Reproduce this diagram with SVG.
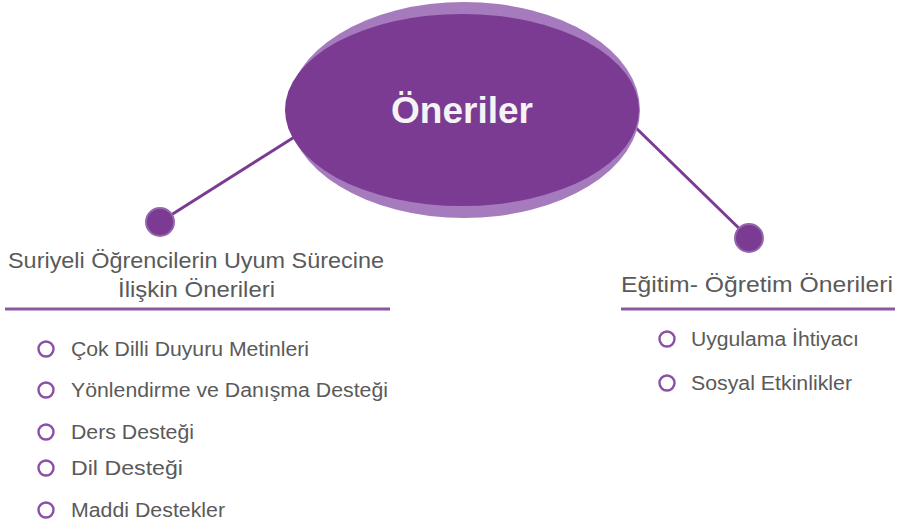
<svg xmlns="http://www.w3.org/2000/svg" width="902" height="529" viewBox="0 0 902 529">
<style>
.hd{font-family:"Liberation Sans",Arial,sans-serif;font-size:22px;fill:#5a5a5a}
.it{font-family:"Liberation Sans",Arial,sans-serif;font-size:19.5px;fill:#5a5a5a}
.bul{fill:none;stroke:#8b4fa8;stroke-width:2.4}
.dot{fill:#7b3b93;stroke:#9566ad;stroke-width:2}
.uline{stroke:#8b55a8;stroke-width:3}
</style>
<rect width="902" height="529" fill="#ffffff"/>
<g id="connectors" stroke="#7b3b93" stroke-width="3" fill="none">
<line x1="296" y1="136" x2="160" y2="222"/>
<line x1="634" y1="126" x2="749" y2="238"/>
</g>
<g id="center">
<ellipse cx="464" cy="110" rx="176" ry="108" fill="#a57bbd"/>
<ellipse cx="462" cy="110" rx="177" ry="96" fill="#7b3b93"/>
<text x="462" y="123" text-anchor="middle" font-family="Liberation Sans,Arial,sans-serif" font-weight="bold" font-size="37" fill="#f4f4f4">Öneriler</text>
</g>
<g id="left-node">
<circle class="dot" cx="160" cy="222" r="14"/>
<text class="hd" x="8" y="268" textLength="376" lengthAdjust="spacingAndGlyphs">Suriyeli Öğrencilerin Uyum Sürecine</text>
<text class="hd" x="118" y="297" textLength="157" lengthAdjust="spacingAndGlyphs">İlişkin Önerileri</text>
<line class="uline" x1="5" y1="309" x2="390" y2="309"/>
</g>
<g id="right-node">
<circle class="dot" cx="749" cy="238" r="14"/>
<text class="hd" x="621" y="292" textLength="272" lengthAdjust="spacingAndGlyphs">Eğitim- Öğretim Önerileri</text>
<line class="uline" x1="621" y1="309" x2="895" y2="309"/>
</g>
<g id="left-items">
<circle class="bul" cx="46" cy="349" r="7.5"/>
<text class="it" x="71" y="356" textLength="238" lengthAdjust="spacingAndGlyphs">Çok Dilli Duyuru Metinleri</text>
<circle class="bul" cx="46" cy="390" r="7.5"/>
<text class="it" x="71" y="397" textLength="317" lengthAdjust="spacingAndGlyphs">Yönlendirme ve Danışma Desteği</text>
<circle class="bul" cx="46" cy="432" r="7.5"/>
<text class="it" x="71" y="439" textLength="123" lengthAdjust="spacingAndGlyphs">Ders Desteği</text>
<circle class="bul" cx="46" cy="468" r="7.5"/>
<text class="it" x="71" y="475" textLength="112" lengthAdjust="spacingAndGlyphs">Dil Desteği</text>
<circle class="bul" cx="46" cy="510" r="7.5"/>
<text class="it" x="71" y="517" textLength="154" lengthAdjust="spacingAndGlyphs">Maddi Destekler</text>
</g>
<g id="right-items">
<circle class="bul" cx="667" cy="339" r="7.5"/>
<text class="it" x="691" y="346" textLength="168" lengthAdjust="spacingAndGlyphs">Uygulama İhtiyacı</text>
<circle class="bul" cx="667" cy="383" r="7.5"/>
<text class="it" x="691" y="390" textLength="161" lengthAdjust="spacingAndGlyphs">Sosyal Etkinlikler</text>
</g>
</svg>
